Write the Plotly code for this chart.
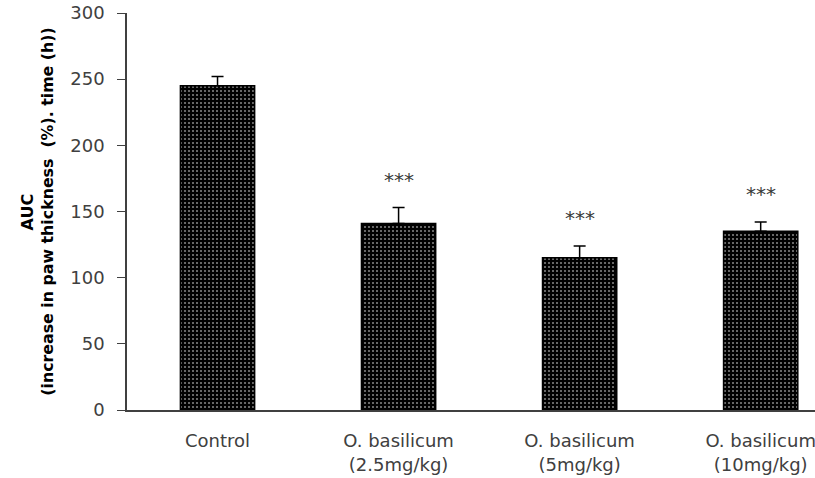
import plotly.graph_objects as go

categories = ["Control", "O. basilicum<br>(2.5mg/kg)", "O. basilicum<br>(5mg/kg)", "O. basilicum<br>(10mg/kg)"]
values = [245, 141, 115, 135]
errors = [7, 12, 9, 7]
significance = ["", "***", "***", "***"]
y_ticks = [0, 50, 100, 150, 200, 250, 300]

fig = go.Figure()
fig.add_trace(go.Bar(
    x=categories, y=values, width=0.41,
    marker=dict(color="black", line=dict(color="black", width=1.5),
                pattern=dict(shape=".", bgcolor="black", fgcolor="white", size=4, solidity=0.22, fillmode="overlay")),
    error_y=dict(type="data", array=errors, symmetric=False, arrayminus=[0]*4,
                 color="black", thickness=1.5, width=6),
    showlegend=False,
))

for c, v, e, s in zip(categories, values, errors, significance):
    if s:
        fig.add_annotation(x=c, y=v + e + 21, text=s, showarrow=False,
                           font=dict(size=20, color="#3a3a3a", family="DejaVu Sans"))

fig.add_annotation(xref="paper", yref="paper", x=-0.144, y=0.5, textangle=-90,
                   text="<b>AUC</b>", showarrow=False, xanchor="center", yanchor="middle",
                   font=dict(size=16, color="black", family="DejaVu Sans"))
fig.add_annotation(xref="paper", yref="paper", x=-0.116, y=0.5, textangle=-90,
                   text="<b>(increase in paw thickness  (%). time (h))</b>", showarrow=False,
                   xanchor="center", yanchor="middle",
                   font=dict(size=15.8, color="black", family="DejaVu Sans"))

fig.update_layout(
    width=815, height=478,
    margin=dict(l=127, r=0, t=13, b=68, autoexpand=False),
    plot_bgcolor="white", paper_bgcolor="white",
    font=dict(family="DejaVu Sans", size=15, color="#404040"),
    xaxis=dict(range=[-0.5, 3.3], showline=True, linecolor="#404040", linewidth=1.5,
               ticks="", showgrid=False, automargin=False, ticklabelstandoff=14,
               ticklabeloverflow="allow",
               tickfont=dict(size=18, color="#404040", family="DejaVu Sans")),
    yaxis=dict(range=[0, 300], tickvals=y_ticks, showline=True, linecolor="#404040", linewidth=1.5,
               ticks="outside", ticklen=8, tickcolor="#404040", showgrid=False, zeroline=False,
               automargin=False, ticklabelstandoff=9, ticklabeloverflow="allow",
               tickfont=dict(size=18, color="#404040", family="DejaVu Sans")),
)

fig.write_html("out.html", config={"displayModeBar": False},
               post_script="document.body.style.margin='0';document.body.style.overflow='hidden';")
